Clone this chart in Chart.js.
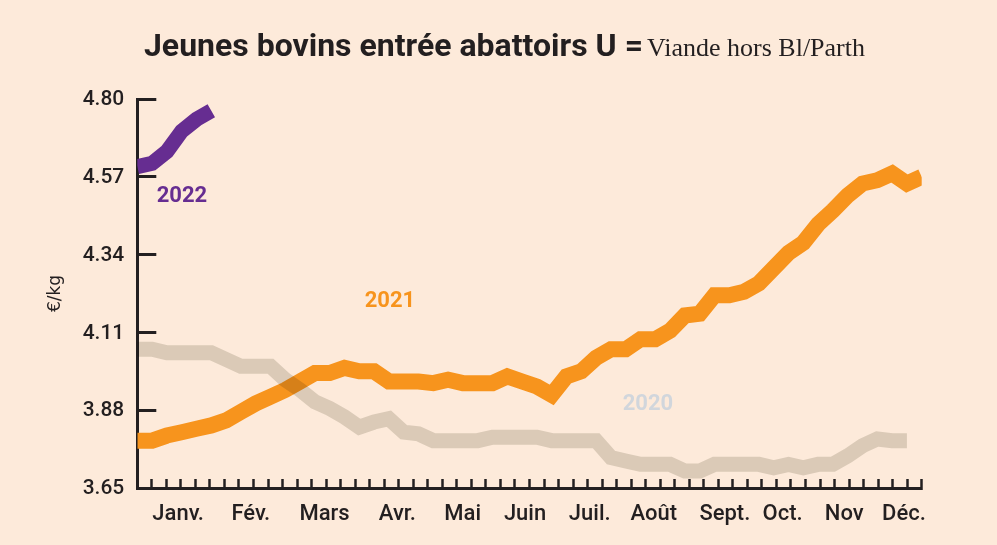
<!DOCTYPE html>
<html>
<head>
<meta charset="utf-8">
<script src="https://cdn.jsdelivr.net/npm/chart.js@4.4.1/dist/chart.umd.min.js"></script>
<style>
  html, body { margin: 0; padding: 0; background: #fdeada; }
  #wrap { position: relative; width: 997px; height: 545px; overflow: hidden; }
  canvas { position: absolute; left: 0; top: 0; }
  #title { position: absolute; left: 6px; width: 997px; top: 26px; text-align: center; color: #231f20; white-space: nowrap; }
  #title .main { font-family: Roboto, sans-serif; font-weight: 700; font-size: 32px; }
  #title .sub { font-family: "Liberation Serif", serif; font-size: 26px; }
</style>
</head>
<body>
<div id="wrap">
  <canvas id="chart" width="997" height="545"></canvas>
  <div id="title"><span class="main">Jeunes bovins entrée abattoirs U =</span> <span class="sub">Viande hors Bl/Parth</span></div>
</div>
<script>
// weekly prices, €/kg
const weeks = [1, 2, 3, 4, 5, 6, 7, 8, 9, 10, 11, 12, 13, 14, 15, 16, 17, 18,
  19, 20, 21, 22, 23, 24, 25, 26, 27, 28, 29, 30, 31, 32, 33, 34, 35, 36,
  37, 38, 39, 40, 41, 42, 43, 44, 45, 46, 47, 48, 49, 50, 51, 52, 53, 54];

const prices2020 = [4.06, 4.06, 4.05, 4.05, 4.05, 4.05, 4.03, 4.01, 4.01, 4.01,
  3.97, 3.94, 3.905, 3.885, 3.86, 3.83, 3.845, 3.855, 3.815, 3.81,
  3.79, 3.79, 3.79, 3.79, 3.80, 3.80, 3.80, 3.80, 3.79, 3.79,
  3.79, 3.79, 3.74, 3.73, 3.72, 3.72, 3.72, 3.70, 3.70, 3.72,
  3.72, 3.72, 3.72, 3.71, 3.72, 3.71, 3.72, 3.72, 3.745, 3.775,
  3.795, 3.79, 3.79];

const prices2021 = [3.79, 3.79, 3.805, 3.815, 3.825, 3.835, 3.85, 3.875, 3.90, 3.92,
  3.94, 3.965, 3.99, 3.99, 4.005, 3.995, 3.995, 3.965, 3.965, 3.965,
  3.96, 3.97, 3.96, 3.96, 3.96, 3.98, 3.965, 3.95, 3.925, 3.98,
  3.995, 4.035, 4.06, 4.06, 4.09, 4.09, 4.115, 4.16, 4.165, 4.22,
  4.22, 4.23, 4.255, 4.30, 4.345, 4.375, 4.43, 4.47, 4.515, 4.55,
  4.56, 4.58, 4.55, 4.57];

const prices2022 = [4.60, 4.61, 4.645, 4.705, 4.74, 4.765];

const seasons = ['2020', '2021', '2022'];
const yTicks = [3.65, 3.88, 4.11, 4.34, 4.57, 4.80];
const monthLabels = ['Janv.', 'Fév.', 'Mars', 'Avr.', 'Mai', 'Juin', 'Juil.', 'Août', 'Sept.', 'Oct.', 'Nov', 'Déc.'];
const monthWeeks = [3.76, 8.67, 13.65, 18.57, 22.99, 27.2, 31.57, 35.9, 40.7, 44.6, 48.77, 52.8];

const INK = '#231f20';
const BG = '#fdeada';
const TICK_STEPS = 54; // small marks along the x axis
const LABEL_FONT = '"Roboto Medium", Roboto';

// paint the page colour so the grey line can multiply over it
const background = {
  id: 'background',
  beforeDraw(chart) {
    const c = chart.ctx;
    c.save();
    c.fillStyle = BG;
    c.fillRect(0, 0, chart.width, chart.height);
    c.restore();
  }
};

// grey 2020 line is see-through where it crosses the orange one
const blendGray = {
  id: 'blendGray',
  beforeDatasetDraw(chart, args) {
    if (args.index === 0) {
      chart.ctx.save();
      chart.ctx.globalCompositeOperation = 'multiply';
    }
  },
  afterDatasetDraw(chart, args) {
    if (args.index === 0) chart.ctx.restore();
  }
};

// year names written next to the lines
const seriesTags = {
  id: 'seriesTags',
  afterDatasetsDraw(chart, args, opts) {
    const { ctx, scales: { x, y } } = chart;
    ctx.save();
    ctx.font = 'bold 22px Roboto';
    ctx.textAlign = 'center';
    ctx.textBaseline = 'middle';
    opts.tags.forEach(t => {
      ctx.fillStyle = t.color;
      ctx.fillText(t.text, x.getPixelForValue(t.week), y.getPixelForValue(t.value));
    });
    ctx.restore();
  }
};

new Chart(document.getElementById('chart'), {
  type: 'line',
  data: {
    labels: weeks,
    datasets: [
      { label: seasons[0], data: prices2020, borderColor: '#dddcd6', borderWidth: 15, order: 1 },
      { label: seasons[1], data: prices2021, borderColor: '#f7941d', borderWidth: 16, order: 2 },
      { label: seasons[2], data: prices2022, borderColor: '#662d91', borderWidth: 15, order: 0 }
    ]
  },
  options: {
    responsive: false,
    animation: false,
    layout: { padding: { left: 41, top: 99, right: 75.3, bottom: 0 } },
    elements: {
      line: { tension: 0, fill: false, borderCapStyle: 'butt', borderJoinStyle: 'miter' },
      point: { radius: 0 }
    },
    plugins: {
      legend: { display: false },
      tooltip: { enabled: false },
      seriesTags: {
        tags: [
          { text: seasons[2], color: '#662d91', week: 4.02, value: 4.513 },
          { text: seasons[1], color: '#f7941d', week: 18.07, value: 4.2 },
          { text: seasons[0], color: '#d1d6dc', week: 35.5, value: 3.898 }
        ]
      }
    },
    scales: {
      x: {
        type: 'linear',
        min: 1,
        max: 54,
        afterBuildTicks: s => {
          const t = [];
          for (let i = 0; i <= TICK_STEPS; i++) t.push({ value: 1 + i * 53 / TICK_STEPS });
          monthWeeks.forEach(v => t.push({ value: v }));
          s.ticks = t;
        },
        afterFit: s => { s.height = 57; },
        border: { display: true, color: INK, width: 3 },
        grid: {
          display: true,
          drawOnChartArea: false,
          drawTicks: true,
          tickLength: -9,
          tickWidth: 2.5,
          tickColor: c => c.index > TICK_STEPS ? 'rgba(0,0,0,0)' : INK
        },
        ticks: {
          autoSkip: false,
          maxRotation: 0,
          minRotation: 0,
          padding: 21,
          color: INK,
          font: { family: LABEL_FONT, size: 22 },
          callback: (v, i) => i > TICK_STEPS ? monthLabels[i - TICK_STEPS - 1] : ''
        }
      },
      y: {
        min: 3.65,
        max: 4.80,
        afterBuildTicks: s => { s.ticks = yTicks.map(v => ({ value: v })); },
        afterFit: s => { s.width = 96.3; },
        border: { display: true, color: INK, width: 3 },
        grid: { display: true, drawOnChartArea: false, tickLength: -19, tickWidth: 3, tickColor: INK },
        ticks: {
          padding: 32,
          color: INK,
          font: { family: LABEL_FONT, size: 21 },
          callback: v => v.toFixed(2)
        },
        title: {
          display: true,
          text: '€/kg',
          color: INK,
          font: { family: 'DejaVu Sans', size: 17 },
          padding: { top: 4, bottom: 0 }
        }
      }
    }
  },
  plugins: [background, blendGray, seriesTags]
});
</script>
</body>
</html>
